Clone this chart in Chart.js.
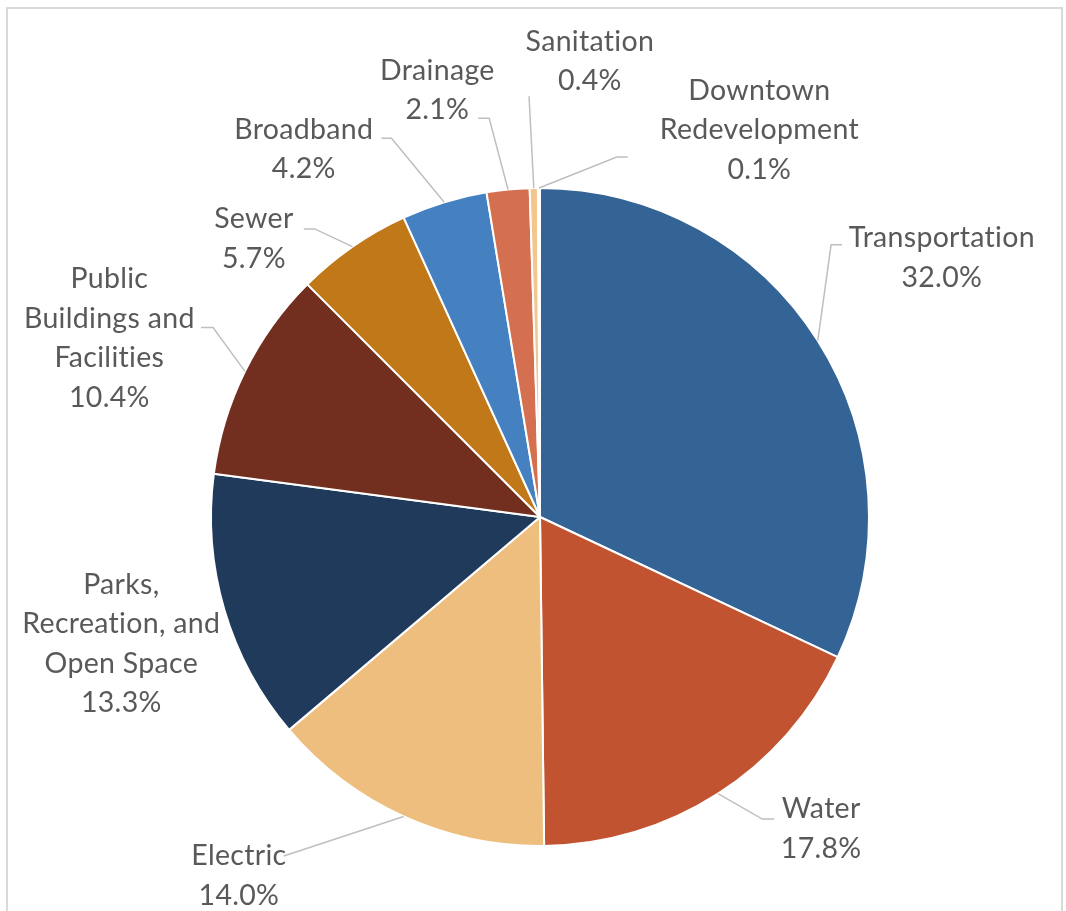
<!DOCTYPE html>
<html>
<head>
<meta charset="utf-8">
<script src="https://cdn.jsdelivr.net/npm/chart.js@4.4.1/dist/chart.umd.min.js"></script>
<style>
  html, body { margin: 0; padding: 0; background: #fff; }
  #wrap { width: 1066px; height: 911px; }
</style>
</head>
<body>
<div id="wrap"><canvas id="capitalPie" width="1066" height="911"></canvas></div>
<script>
// categories and shares (%), clockwise from 12 o'clock
var categories = ['Transportation', 'Water', 'Electric', 'Parks, Recreation, and Open Space',
  'Public Buildings and Facilities', 'Sewer', 'Broadband', 'Drainage', 'Sanitation', 'Downtown Redevelopment'];
var shares = [32.0, 17.8, 14.0, 13.3, 10.4, 5.7, 4.2, 2.1, 0.4, 0.1];
var sliceColors = ['#346396', '#C15331', '#EEBE7F', '#1F3A5A', '#722E1E',
  '#C07818', '#4580C1', '#D4704F', '#F2C68E', '#3A6AA0'];

// label placement (Excel "best fit" look), in px relative to pie centre for a 330px radius
// c = text block centre, tip = where the leader meets the label, stub = horizontal elbow length
var labelLayout = [
  { lines: ['Transportation'], c: [403, -260], tip: [303, -273], stub: -11 },
  { lines: ['Water'], c: [282, 313], tip: [235, 303], stub: -12 },
  { lines: ['Electric'], c: [-302, 360], tip: [-257, 340], stub: 0 },
  { lines: ['Parks,', 'Recreation, and', 'Open Space'], c: [-420, 127], tip: null },
  { lines: ['Public', 'Buildings and', 'Facilities'], c: [-432, -179], tip: [-340, -190], stub: 12 },
  { lines: ['Sewer'], c: [-287, -279], tip: [-237, -289], stub: 11 },
  { lines: ['Broadband'], c: [-237, -369], tip: [-159, -380], stub: 10 },
  { lines: ['Drainage'], c: [-103, -428], tip: [-62, -400], stub: 11 },
  { lines: ['Sanitation'], c: [50, -457], tip: [-11, -422], stub: 0 },
  { lines: ['Downtown', 'Redevelopment'], c: [220, -388], tip: [88, -361], stub: -11 }
];

var textColor = '#595959';
var fontFamily = 'Lato, "Noto Sans", sans-serif';

// frame like the Excel chart area
var framePlugin = {
  id: 'frame',
  beforeDraw: function(chart) {
    var ctx = chart.ctx;
    ctx.save();
    ctx.fillStyle = '#fff';
    ctx.fillRect(0, 0, chart.width, chart.height);
    ctx.strokeStyle = '#d9d9d9';
    ctx.lineWidth = 2;
    ctx.strokeRect(7, 8, 1055, 940);
    ctx.restore();
  }
};

// outside labels with leader lines
var labelPlugin = {
  id: 'outsideLabels',
  afterDatasetsDraw: function(chart) {
    var ctx = chart.ctx;
    var meta = chart.getDatasetMeta(0);
    var data = chart.data.datasets[0].data;
    meta.data.forEach(function(arc, i) {
      var lay = labelLayout[i];
      var k = arc.outerRadius / 330;
      var cx = arc.x, cy = arc.y;
      var mid = (arc.startAngle + arc.endAngle) / 2;
      ctx.save();
      if (lay.tip) {
        var sx = cx + Math.cos(mid) * arc.outerRadius;
        var sy = cy + Math.sin(mid) * arc.outerRadius;
        var tx = cx + lay.tip[0] * k, ty = cy + lay.tip[1] * k;
        ctx.strokeStyle = '#bfbfbf';
        ctx.lineWidth = 1.5;
        ctx.beginPath();
        ctx.moveTo(sx, sy);
        ctx.lineTo(tx + lay.stub, ty);
        ctx.lineTo(tx, ty);
        ctx.stroke();
      }
      var lines = lay.lines.concat([data[i].toFixed(1) + '%']);
      var lh = 39.5;
      var x = cx + lay.c[0] * k;
      var y0 = cy + lay.c[1] * k - (lines.length - 1) * lh / 2;
      ctx.fillStyle = textColor;
      ctx.font = '28.5px ' + fontFamily;
      if ('letterSpacing' in ctx) ctx.letterSpacing = '0.3px';
      ctx.textAlign = 'center';
      ctx.textBaseline = 'middle';
      lines.forEach(function(t, j) {
        ctx.fillText(t, x, y0 + j * lh);
      });
      ctx.restore();
    });
  }
};

var ctx = document.getElementById('capitalPie');
var capitalPie = new Chart(ctx, {
  type: 'pie',
  data: {
    labels: categories,
    datasets: [{
      data: shares,
      backgroundColor: sliceColors,
      borderColor: '#ffffff',
      borderWidth: 2
    }]
  },
  options: {
    responsive: false,
    animation: false,
    layout: { padding: { left: 210, right: 196, top: 187, bottom: 64 } },
    plugins: {
      legend: { display: false },
      tooltip: { enabled: false }
    }
  },
  plugins: [framePlugin, labelPlugin]
});
</script>
</body>
</html>
